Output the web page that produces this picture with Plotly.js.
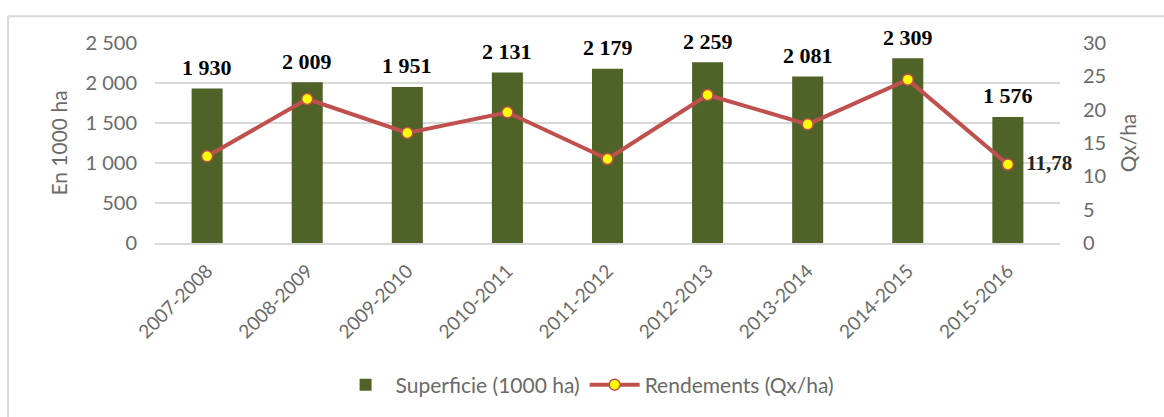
<!DOCTYPE html>
<html>
<head>
<meta charset="utf-8">
<script src="https://cdn.plot.ly/plotly-3.0.1.min.js"></script>
<style>
html,body{margin:0;padding:0;background:#fff;}
#chart{width:1164px;height:417px;}
</style>
</head>
<body>
<div id="chart"></div>
<script>
var campagnes = ["2007-2008","2008-2009","2009-2010","2010-2011","2011-2012","2012-2013","2013-2014","2014-2015","2015-2016"];
var superficie = [1930, 2009, 1951, 2131, 2179, 2259, 2081, 2309, 1576];
var rendements = [13.0, 21.6, 16.5, 19.6, 12.6, 22.2, 17.8, 24.5, 11.78];
var labelRendementIndex = [8];

function fmtThousands(v){
  var s = String(v);
  return s.length > 3 ? s.slice(0, s.length-3) + " " + s.slice(s.length-3) : s;
}

var barTrace = {
  type: "bar",
  name: "Superficie (1000 ha)",
  x: campagnes,
  y: superficie,
  marker: {color: "#4F6228"},
  width: 0.31,
  yaxis: "y",
  hoverinfo: "x+y"
};

var lineText = rendements.map(function(v, i){
  return labelRendementIndex.indexOf(i) >= 0 ? "  " + String(v).replace(".", ",") : "";
});

var lineTrace = {
  type: "scatter",
  mode: "lines+markers+text",
  name: "Rendements (Qx/ha)",
  x: campagnes,
  y: rendements,
  yaxis: "y2",
  line: {color: "#C0504D", width: 4},
  marker: {color: "#FFFF00", size: 11, line: {color: "#C0504D", width: 1.5}},
  text: lineText,
  textposition: "middle right",
  textfont: {family: "Liberation Serif, Times New Roman, serif", size: 21, color: "#262626", weight: "bold"},
  cliponaxis: false
};

var annotations = superficie.map(function(v, i){
  return {
    x: campagnes[i], y: v, xref: "x", yref: "y",
    text: "<b>" + fmtThousands(v) + "</b>",
    showarrow: false, yanchor: "middle", yshift: 21,
    font: {family: "Liberation Serif, Times New Roman, serif", size: 22, color: "#000000"}
  };
});

var tickFont = {family: "Lato, 'Open Sans', sans-serif", size: 20, color: "#6a6a6a"};

var layout = {
  width: 1164, height: 417,
  margin: {l: 155, r: 104, t: 43, b: 172},
  paper_bgcolor: "#ffffff",
  plot_bgcolor: "#ffffff",
  separators: ", ",
  showlegend: true,
  bargap: 0.69,
  xaxis: {
    type: "category",
    tickangle: -45,
    tickfont: {family: "Lato, 'Open Sans', sans-serif", size: 19, color: "#6a6a6a"},
    showgrid: false,
    showline: true,
    linecolor: "#D9D9D9",
    linewidth: 1.5,
    ticks: "",
    ticklabelstandoff: 8,
    automargin: false
  },
  yaxis: {
    range: [0, 2500],
    dtick: 500,
    tickformat: ",d",
    tickfont: tickFont,
    gridcolor: "#D9D9D9",
    gridwidth: 1.5,
    zeroline: false,
    showline: false,
    ticks: "",
    ticklabelstandoff: 17,
    title: {text: "En 1000 ha", font: {family: "Lato, 'Open Sans', sans-serif", size: 21, color: "#6a6a6a"}, standoff: 12},
    automargin: false
  },
  yaxis2: {
    overlaying: "y",
    side: "right",
    range: [0, 30],
    dtick: 5,
    tickfont: tickFont,
    showgrid: false,
    zeroline: false,
    showline: false,
    ticks: "",
    ticklabelstandoff: 22,
    title: {text: "Qx/ha", font: {family: "Lato, 'Open Sans', sans-serif", size: 21, color: "#6a6a6a"}, standoff: 16},
    automargin: false
  },
  legend: {
    orientation: "h",
    x: 0.478, xanchor: "center",
    y: -0.71, yanchor: "middle",
    font: {family: "Lato, 'Open Sans', sans-serif", size: 21, color: "#6a6a6a"},
    itemwidth: 50,
    traceorder: "normal"
  },
  annotations: annotations,
  shapes: [
    {type: "line", xref: "paper", yref: "paper", x0: -0.1624, x1: 1.12, y0: 1.134, y1: 1.134, line: {color: "#D9D9D9", width: 2}},
    {type: "line", xref: "paper", yref: "paper", x0: -0.1624, x1: -0.1624, y0: 1.134, y1: -0.9, line: {color: "#D9D9D9", width: 2}}
  ]
};

Plotly.newPlot("chart", [barTrace, lineTrace], layout, {displayModeBar: false, staticPlot: true});
</script>
</body>
</html>
